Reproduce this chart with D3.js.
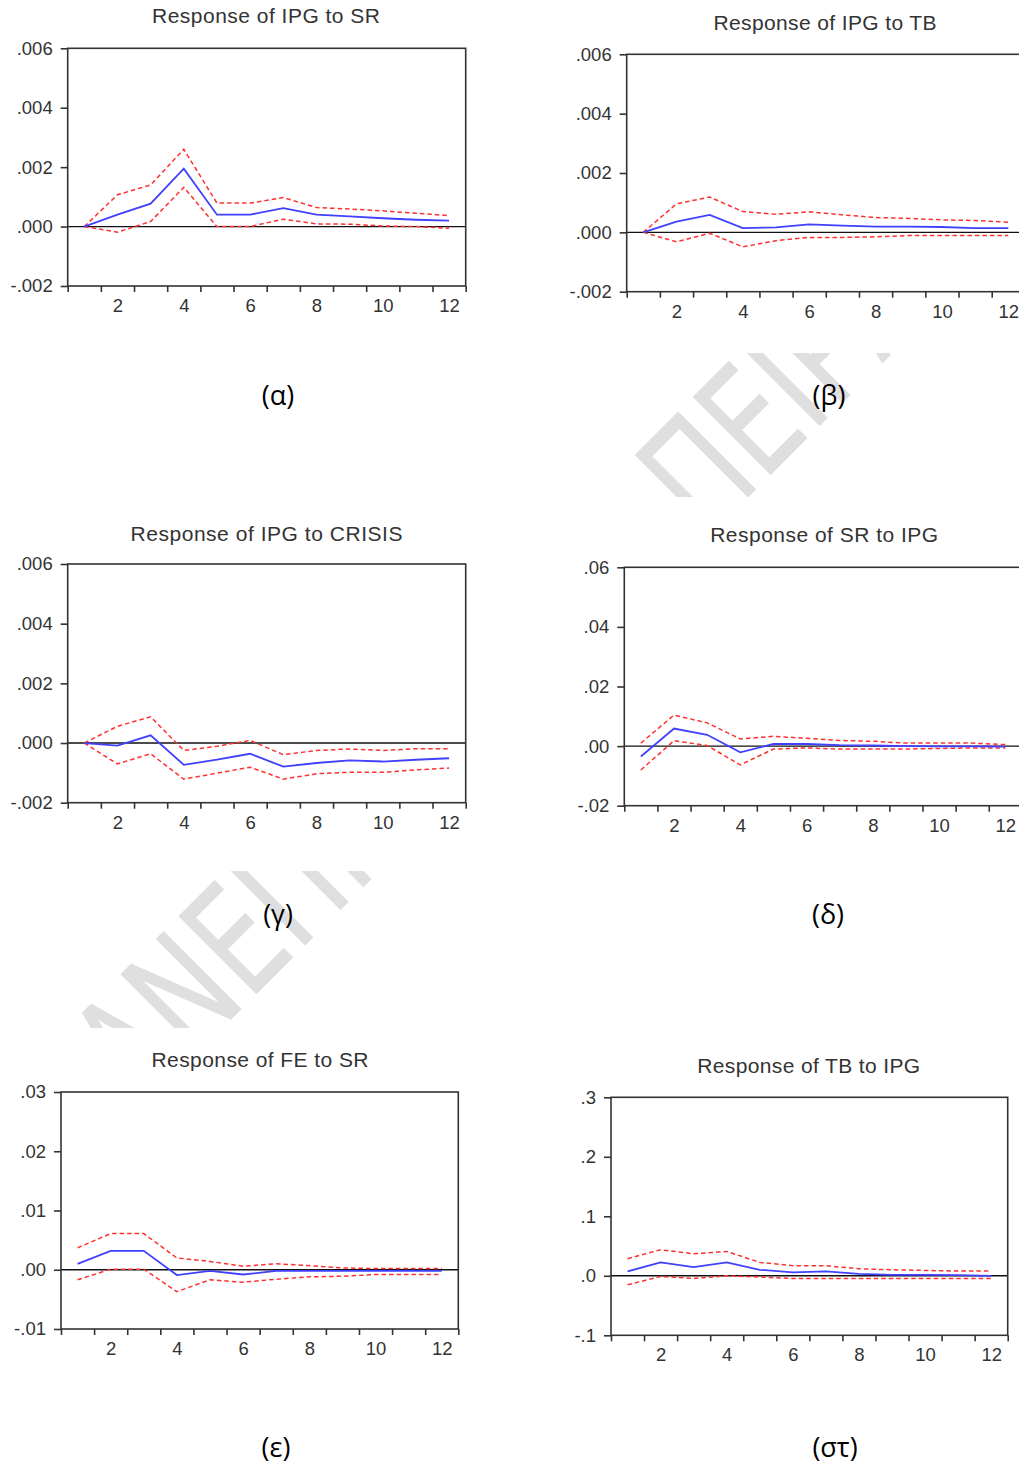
<!DOCTYPE html>
<html><head><meta charset="utf-8">
<script src="https://cdn.jsdelivr.net/npm/d3@7/dist/d3.min.js"></script>
<style>body{margin:0;background:#fff}</style>
</head><body>
<svg id="c" width="1019" height="1470"></svg>
<script>
// ---------- DATA ----------
const periods = [1,2,3,4,5,6,7,8,9,10,11,12];
const xTickLabels = [2,4,6,8,10,12];
const titles = ["Response of IPG to SR","Response of IPG to TB","Response of IPG to CRISIS",
                "Response of SR to IPG","Response of FE to SR","Response of TB to IPG"];
const tags = ["(α)","(β)","(γ)","(δ)","(ε)","(στ)"];

const yTicksIPG = [-0.002,0,0.002,0.004,0.006];
const yLabelsIPG = ["-.002",".000",".002",".004",".006"];
const yTicksSR = [-0.02,0,0.02,0.04,0.06];
const yLabelsSR = ["-.02",".00",".02",".04",".06"];
const yTicksFE = [-0.01,0,0.01,0.02,0.03];
const yLabelsFE = ["-.01",".00",".01",".02",".03"];
const yTicksTB = [-0.1,0,0.1,0.2,0.3];
const yLabelsTB = ["-.1",".0",".1",".2",".3"];

// (α) IPG to SR
const ipgSR    = [0,0.00040,0.00077,0.00195,0.00040,0.00040,0.00062,0.00040,0.00034,0.00028,0.00023,0.00020];
const ipgSR_hi = [0,0.00107,0.00140,0.00260,0.00079,0.00079,0.00098,0.00064,0.00059,0.00053,0.00045,0.00037];
const ipgSR_lo = [0,-0.00019,0.00017,0.00132,0.00000,0.00000,0.00025,0.00009,0.00008,0.00002,0.00000,-0.00006];
// (β) IPG to TB
const ipgTB    = [0,0.00036,0.00059,0.00014,0.00017,0.00027,0.00023,0.00019,0.00019,0.00018,0.00014,0.00014];
const ipgTB_hi = [0,0.00096,0.00119,0.00070,0.00061,0.00069,0.00059,0.00050,0.00047,0.00042,0.00040,0.00034];
const ipgTB_lo = [0,-0.00032,-0.00003,-0.00049,-0.00028,-0.00017,-0.00017,-0.00015,-0.00011,-0.00011,-0.00011,-0.00011];
// (γ) IPG to CRISIS
const ipgCR    = [0,-0.00009,0.00026,-0.00073,-0.00056,-0.00036,-0.00079,-0.00067,-0.00058,-0.00062,-0.00056,-0.00051];
const ipgCR_hi = [0,0.00056,0.00088,-0.00025,-0.00011,0.00009,-0.00039,-0.00025,-0.00020,-0.00025,-0.00019,-0.00019];
const ipgCR_lo = [0,-0.00070,-0.00036,-0.00121,-0.00101,-0.00081,-0.00121,-0.00103,-0.00098,-0.00098,-0.00090,-0.00084];
// (δ) SR to IPG
const srIPG    = [-0.0035,0.0059,0.0038,-0.0021,0.0007,0.0007,0.0003,0.0002,0.0000,-0.0001,-0.0001,-0.0002];
const srIPG_hi = [0.0010,0.0104,0.0078,0.0024,0.0033,0.0026,0.0019,0.0016,0.0010,0.0010,0.0010,0.0005];
const srIPG_lo = [-0.0080,0.0018,0.0002,-0.0063,-0.0010,-0.0006,-0.0010,-0.0010,-0.0010,-0.0008,-0.0006,-0.0006];
// (ε) FE to SR
const feSR     = [0.0010,0.0032,0.0032,-0.0009,-0.0002,-0.0008,-0.0002,-0.0002,-0.0002,-0.0002,-0.0002,-0.0002];
const feSR_hi  = [0.0037,0.0061,0.0061,0.0020,0.0014,0.0006,0.0010,0.0007,0.0003,0.0002,0.0002,0.0002];
const feSR_lo  = [-0.0017,0.0001,0.0001,-0.0037,-0.0017,-0.0021,-0.0016,-0.0012,-0.0011,-0.0008,-0.0008,-0.0008];
// (στ) TB to IPG
const tbIPG    = [0.0073,0.0225,0.0146,0.0225,0.0101,0.0056,0.0073,0.0034,0.0017,0.0017,0.0011,0.0000];
const tbIPG_hi = [0.0287,0.0438,0.0370,0.0410,0.0225,0.0169,0.0169,0.0118,0.0101,0.0090,0.0079,0.0079];
const tbIPG_lo = [-0.0152,-0.0011,-0.0045,0.0000,-0.0022,-0.0045,-0.0045,-0.0045,-0.0045,-0.0045,-0.0045,-0.0045];

const watermarkWords = ["ΠΑΝ","ΕΠΙΣΤΗΜΙΟ","ΠΕΙΡΑΙΩΣ"];

// ---------- LAYOUT ----------
const panels = [
  {mid:ipgSR, hi:ipgSR_hi, lo:ipgSR_lo, ticks:yTicksIPG, labels:yLabelsIPG,
   left:67.7, right:465.7, top:48.3, bottom:286, tx:266, ty:23.3, tw:228, gx:278, gy:398},
  {mid:ipgTB, hi:ipgTB_hi, lo:ipgTB_lo, ticks:yTicksIPG, labels:yLabelsIPG,
   left:626.7, right:1024.9, top:54.3, bottom:291.7, tx:825, ty:30, tw:223, gx:829, gy:398},
  {mid:ipgCR, hi:ipgCR_hi, lo:ipgCR_lo, ticks:yTicksIPG, labels:yLabelsIPG,
   left:67.7, right:465.7, top:564, bottom:802.7, tx:266.5, ty:540.7, tw:272, gx:278, gy:917},
  {mid:srIPG, hi:srIPG_hi, lo:srIPG_lo, ticks:yTicksSR, labels:yLabelsSR,
   left:624.3, right:1021.9, top:567.3, bottom:805.7, tx:824.2, ty:542.3, tw:228, gx:828, gy:917},
  {mid:feSR, hi:feSR_hi, lo:feSR_lo, ticks:yTicksFE, labels:yLabelsFE,
   left:61, right:458.3, top:1092, bottom:1329, tx:260, ty:1066.7, tw:217, gx:276, gy:1450},
  {mid:tbIPG, hi:tbIPG_hi, lo:tbIPG_lo, ticks:yTicksTB, labels:yLabelsTB,
   left:611, right:1007.7, top:1097.3, bottom:1335.3, tx:808.7, ty:1072.7, tw:223, gx:835, gy:1450}
];

const svg = d3.select("#c");
const AX = "#333";
const FONT = "'Liberation Sans', Arial, sans-serif";

// ---------- WATERMARK ----------
const defs = svg.append("defs");
const cp = defs.append("clipPath").attr("id","wmclip");
cp.append("rect").attr("x",0).attr("y",353).attr("width",1019).attr("height",144);
cp.append("rect").attr("x",0).attr("y",871).attr("width",1019).attr("height",157);
const wm = svg.append("g").attr("clip-path","url(#wmclip)");
const wmPos = [
  {x:248.7, y:1001.3, anchor:"end"},
  {x:248.7, y:1001.3, anchor:"start"},
  {x:704.9, y:540.1, anchor:"start"}
];
watermarkWords.forEach((w,i)=>{
  wm.append("text")
    .attr("transform",`translate(${wmPos[i].x},${wmPos[i].y}) rotate(-45) scale(0.73,1)`)
    .attr("text-anchor",wmPos[i].anchor)
    .attr("font-family","'DejaVu Sans', sans-serif")
    .attr("font-size",150)
    .attr("fill","#dfdfdf").attr("stroke","#dfdfdf").attr("stroke-width",1)
    .attr("stroke-linejoin","round")
    .text(w);
});

// ---------- PANELS ----------
panels.forEach((p,k)=>{
  const g = svg.append("g");
  const x = d3.scaleLinear().domain([periods[0]-0.5, periods[periods.length-1]+0.5]).range([p.left,p.right]);
  const y = d3.scaleLinear().domain([p.ticks[0], p.ticks[p.ticks.length-1]]).range([p.bottom,p.top]);

  // zero line
  g.append("line").attr("x1",p.left).attr("x2",p.right).attr("y1",y(0)).attr("y2",y(0))
    .attr("stroke","#111").attr("stroke-width",1.4);

  const line = d3.line().x((d,i)=>x(periods[i])).y(d=>y(d));
  [p.hi,p.lo].forEach(s=>{
    g.append("path").datum(s).attr("d",line).attr("fill","none")
      .attr("stroke","#ff3030").attr("stroke-width",1.5).attr("stroke-dasharray","4.5,3");
  });
  g.append("path").datum(p.mid).attr("d",line).attr("fill","none")
    .attr("stroke","#4040ff").attr("stroke-width",1.8);

  // frame
  g.append("rect").attr("x",p.left).attr("y",p.top).attr("width",p.right-p.left).attr("height",p.bottom-p.top)
    .attr("fill","none").attr("stroke",AX).attr("stroke-width",1.6);

  // x axis: ticks at period boundaries, labels at even periods
  const bounds = periods.map(v=>v-0.5).concat([periods[periods.length-1]+0.5]);
  const xa = g.append("g").attr("transform",`translate(0,${p.bottom})`)
    .call(d3.axisBottom(x).tickValues(bounds).tickSize(6).tickSizeOuter(0).tickFormat(""));
  const xl = g.append("g").attr("transform",`translate(0,${p.bottom})`)
    .call(d3.axisBottom(x).tickValues(xTickLabels).tickSize(0).tickPadding(13).tickFormat(d=>String(d)));
  const ya = g.append("g").attr("transform",`translate(${p.left},0)`)
    .call(d3.axisLeft(y).tickValues(p.ticks).tickSize(7).tickPadding(8).tickFormat((d,i)=>p.labels[i]));
  [xa,xl,ya].forEach(a=>{
    a.select(".domain").remove();
    a.selectAll(".tick line").attr("stroke",AX).attr("stroke-width",1.6);
    a.selectAll("text").attr("font-family",FONT).attr("font-size",18.5).attr("fill",AX);
  });

  // title
  g.append("text").attr("x",p.tx).attr("y",p.ty).attr("text-anchor","middle")
    .attr("font-family",FONT).attr("font-size",21).attr("fill",AX)
    .attr("textLength",p.tw).attr("lengthAdjust","spacing")
    .text(titles[k]);

  // tag
  g.append("text").attr("x",p.gx).attr("y",p.gy + 0.26*27).attr("text-anchor","middle")
    .attr("font-family","'Open Sans', 'Noto Sans', sans-serif").attr("font-size",27).attr("fill","#000")
    .text(tags[k]);
});
</script>
</body></html>
